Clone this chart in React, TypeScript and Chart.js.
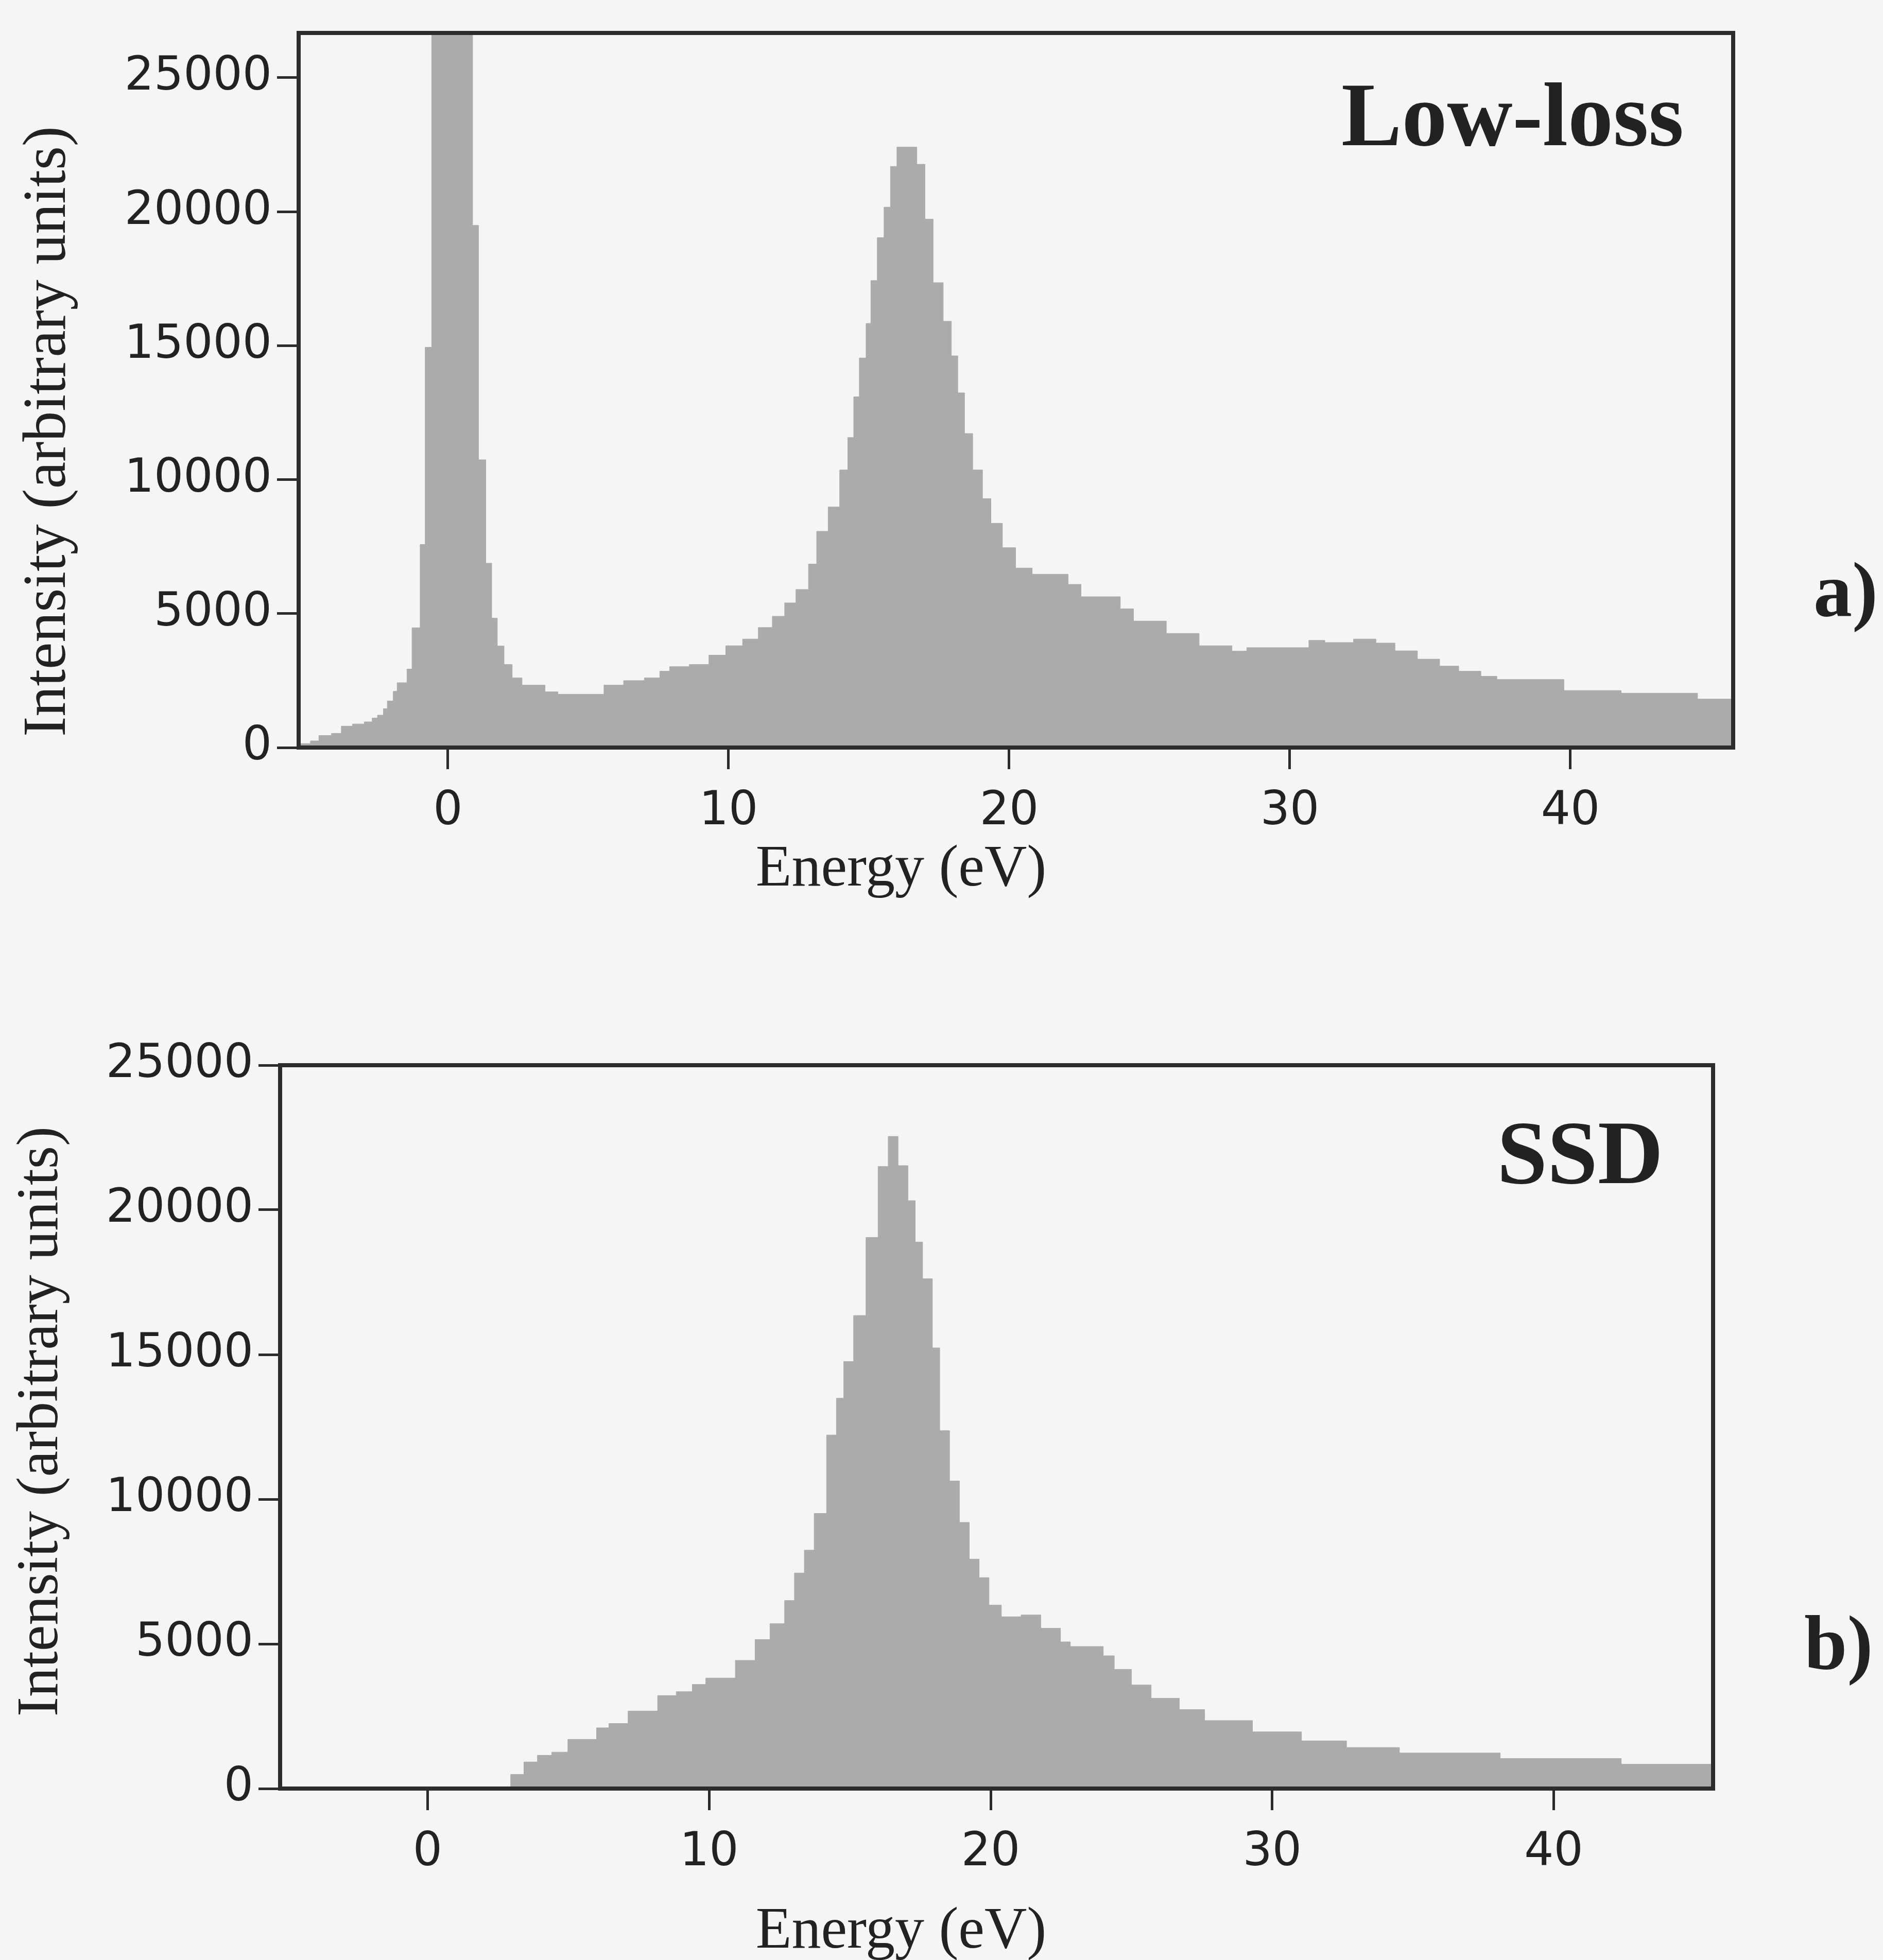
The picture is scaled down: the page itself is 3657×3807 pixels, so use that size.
import React, { useEffect, useRef } from "react";
import { Chart, registerables } from "chart.js";

Chart.register(...registerables);

// ---------------- data ----------------
const xTickValues = [0, 10, 20, 30, 40];
const yTickValues = [0, 5000, 10000, 15000, 20000, 25000];

const xAxisTitle = "Energy (eV)";
const yAxisTitle = "Intensity (arbitrary units)";

// Low-loss spectrum: bin left edges (eV) and counts
const lowLossEnergy = [
  -5.32, -4.9, -4.6, -4.15, -3.8, -3.4, -2.98, -2.7, -2.51, -2.3, -2.16, -1.95, -1.81,
  -1.46, -1.28, -0.99, -0.81, -0.58, -0.36, -0.14, 0.08, 0.3, 0.52, 0.7, 0.88, 1.09,
  1.35, 1.56, 1.76, 2.0, 2.29, 2.64, 3.46, 3.92, 5.56, 6.26, 7.0, 7.55, 7.9, 8.6, 9.3,
  9.9, 10.5, 11.06, 11.56, 12.0, 12.4, 12.85, 13.14, 13.55, 13.96, 14.25, 14.46, 14.66,
  14.9, 15.07, 15.3, 15.54, 15.77, 16.0, 16.71, 17.0, 17.29, 17.65, 17.94, 18.17, 18.41,
  18.7, 19.05, 19.35, 19.76, 20.23, 20.82, 22.1, 22.56, 23.96, 24.43, 25.6, 26.77, 27.94,
  28.47, 30.68, 31.25, 32.27, 33.07, 33.75, 34.55, 35.34, 36.02, 36.81, 37.38, 39.77,
  41.81, 44.53, 45.9,
];
const lowLossIntensity = [
  150, 250, 450, 530, 800, 880, 960, 1100, 1210, 1450, 1740, 2100, 2420,
  2930, 4470, 7580, 14940, 48000, 85000, 100000, 92000, 70000, 45000, 30000, 19490, 10740,
  6880, 4830, 3790, 3100, 2600, 2330, 2080, 1990, 2330, 2500, 2600, 2850, 3020, 3100, 3450,
  3800, 4050, 4480, 4900, 5400, 5900, 6850, 8070, 8980, 10360, 11570, 13090, 14540,
  15830, 17430, 19030, 20170, 21690, 22410, 21770, 19720, 17350, 15910, 14620, 13240, 11720,
  10360, 9290, 8370, 7460, 6700, 6470, 6090, 5630, 5180, 4720, 4260, 3800, 3600,
  3730, 4000, 3920, 4050, 3900, 3610, 3300, 3040, 2850, 2660, 2540, 2130,
  2030, 1810, 1810,
];

// Single scattering distribution: bin left edges (eV) and counts
const ssdEnergy = [
  -5.3, 2.95, 3.42, 3.9, 4.41, 4.98, 6.0, 6.44, 7.12, 8.17, 8.83, 9.4, 9.88, 10.93,
  11.63, 12.16, 12.68, 13.03, 13.38, 13.73, 14.17, 14.52, 14.78, 15.13, 15.57, 16.0,
  16.36, 16.71, 17.06, 17.32, 17.58, 17.93, 18.19, 18.54, 18.89, 19.24, 19.59, 19.94,
  20.38, 21.08, 21.78, 22.48, 22.83, 24.0, 24.39, 25.0, 25.7, 26.7, 27.6, 29.3, 31.04,
  32.64, 34.52, 38.1, 42.4, 45.8,
];
const ssdIntensity = [
  0, 490, 920, 1150, 1260, 1700, 2100, 2250, 2680, 3215, 3350, 3600, 3820, 4430,
  5150, 5700, 6500, 7450, 8240, 9510, 12220, 13490, 14760, 16350, 19050, 21500,
  22540, 21530, 20320, 18890, 17620, 15230, 12370, 10630, 9200, 7930, 7290, 6340,
  5940, 6000, 5540, 5070, 4910, 4590, 4120, 3580, 3120, 2730, 2350, 1960, 1650,
  1420, 1230, 1040, 840, 840,
];

// ---------------- styles / layout ----------------
const PAGE_W = 3657;
const PAGE_H = 3807;
const BG = "#f5f5f5";
const FILL = "#ababab";
const AXIS = "#2c2c2c";
const TEXT = "#222222";
const TICK_FONT = { family: "DejaVu Sans", size: 90, weight: "normal" as const };
const SERIF = '"Liberation Serif", "Times New Roman", serif';

type Panel = {
  top: number;
  height: number;
  area: { left: number; right: number; top: number; bottom: number };
  xMin: number;
  xMax: number;
  yMax: number;
  energy: number[];
  intensity: number[];
  label: string;
  labelX: number;
  labelY: number;
  letter: string;
  letterX: number;
  letterY: number;
  xTitleX: number;
  xTitleY: number;
  yTitleX: number;
  yTitleY: number;
  yTitleSize: number;
};

const panels: Panel[] = [
  {
    top: 0,
    height: 1900,
    area: { left: 580, right: 3366, top: 46, bottom: 1452 },
    xMin: -5.32,
    xMax: 45.8,
    yMax: 26670,
    energy: lowLossEnergy,
    intensity: lowLossIntensity,
    label: "Low-loss",
    labelX: 3270,
    labelY: 282,
    letter: "a)",
    letterX: 3522,
    letterY: 1196,
    xTitleX: 1750,
    xTitleY: 1720,
    yTitleX: 126,
    yTitleY: 838,
    yTitleSize: 118,
  },
  {
    top: 1900,
    height: PAGE_H - 1900,
    area: { left: 544, right: 3327, top: 169, bottom: 1574 },
    xMin: -5.24,
    xMax: 45.66,
    yMax: 25000,
    energy: ssdEnergy,
    intensity: ssdIntensity,
    label: "SSD",
    labelX: 3230,
    labelY: 398,
    letter: "b)",
    letterX: 3504,
    letterY: 1342,
    xTitleX: 1750,
    xTitleY: 1883,
    yTitleX: 111,
    yTitleY: 861,
    yTitleSize: 114,
  },
];

function makeConfig(p: Panel): any {
  const decorPlugin = {
    id: "decor",
    afterDraw(chart: any) {
      const ctx = chart.ctx;
      const a = chart.chartArea;
      ctx.save();
      ctx.strokeStyle = AXIS;
      ctx.lineWidth = 8;
      ctx.strokeRect(a.left, a.top, a.right - a.left, a.bottom - a.top);

      ctx.fillStyle = TEXT;
      ctx.textBaseline = "alphabetic";

      ctx.font = `114px ${SERIF}`;
      ctx.textAlign = "center";
      ctx.fillText(xAxisTitle, p.xTitleX, p.xTitleY);

      ctx.save();
      ctx.font = `${p.yTitleSize}px ${SERIF}`;
      ctx.translate(p.yTitleX, p.yTitleY);
      ctx.rotate(-Math.PI / 2);
      ctx.fillText(yAxisTitle, 0, 0);
      ctx.restore();

      ctx.font = `bold 176px ${SERIF}`;
      ctx.textAlign = "right";
      ctx.fillText(p.label, p.labelX, p.labelY);

      ctx.font = `bold 150px ${SERIF}`;
      ctx.textAlign = "left";
      ctx.fillText(p.letter, p.letterX, p.letterY);
      ctx.restore();
    },
  };

  const gridOpts = {
    display: true,
    drawOnChartArea: false,
    drawTicks: true,
    tickLength: 42,
    tickWidth: 5,
    tickColor: AXIS,
    color: AXIS,
  };

  return {
    type: "line",
    data: {
      datasets: [
        {
          data: p.energy.map((e, i) => ({ x: e, y: p.intensity[i] })),
          stepped: "before",
          fill: "origin",
          backgroundColor: FILL,
          borderColor: FILL,
          borderWidth: 1,
          pointRadius: 0,
          tension: 0,
        },
      ],
    },
    options: {
      animation: false,
      responsive: false,
      events: [],
      layout: {
        padding: { left: 0, top: p.area.top, right: PAGE_W - p.area.right, bottom: 0 },
      },
      plugins: {
        legend: { display: false },
        tooltip: { enabled: false },
        title: { display: false },
      },
      scales: {
        x: {
          type: "linear",
          min: p.xMin,
          max: p.xMax,
          afterBuildTicks: (s: any) => {
            s.ticks = xTickValues.map((v) => ({ value: v }));
          },
          afterFit: (s: any) => {
            s.height = p.height - p.area.bottom;
          },
          grid: gridOpts,
          border: { display: false },
          ticks: {
            font: TICK_FONT,
            color: TEXT,
            padding: 30,
            maxRotation: 0,
            autoSkip: false,
          },
        },
        y: {
          type: "linear",
          min: 0,
          max: p.yMax,
          afterBuildTicks: (s: any) => {
            s.ticks = yTickValues.map((v) => ({ value: v }));
          },
          afterFit: (s: any) => {
            s.width = p.area.left;
          },
          grid: gridOpts,
          border: { display: false },
          ticks: {
            font: TICK_FONT,
            color: TEXT,
            padding: 10,
            autoSkip: false,
            callback: (v: any) => String(v),
          },
        },
      },
    },
    plugins: [decorPlugin],
  };
}

function PanelChart({ p }: { p: Panel }) {
  const ref = useRef<HTMLCanvasElement | null>(null);
  useEffect(() => {
    if (!ref.current) return;
    const chart = new Chart(ref.current, makeConfig(p));
    return () => chart.destroy();
  }, [p]);
  return (
    <canvas
      ref={ref}
      width={PAGE_W}
      height={p.height}
      style={{
        position: "absolute",
        left: 0,
        top: p.top,
        width: PAGE_W,
        height: p.height,
        display: "block",
      }}
    />
  );
}

export default function App() {
  return (
    <div
      style={{
        position: "absolute",
        left: 0,
        top: 0,
        width: PAGE_W,
        height: PAGE_H,
        background: BG,
        overflow: "hidden",
      }}
    >
      {panels.map((p, i) => (
        <PanelChart key={i} p={p} />
      ))}
    </div>
  );
}
